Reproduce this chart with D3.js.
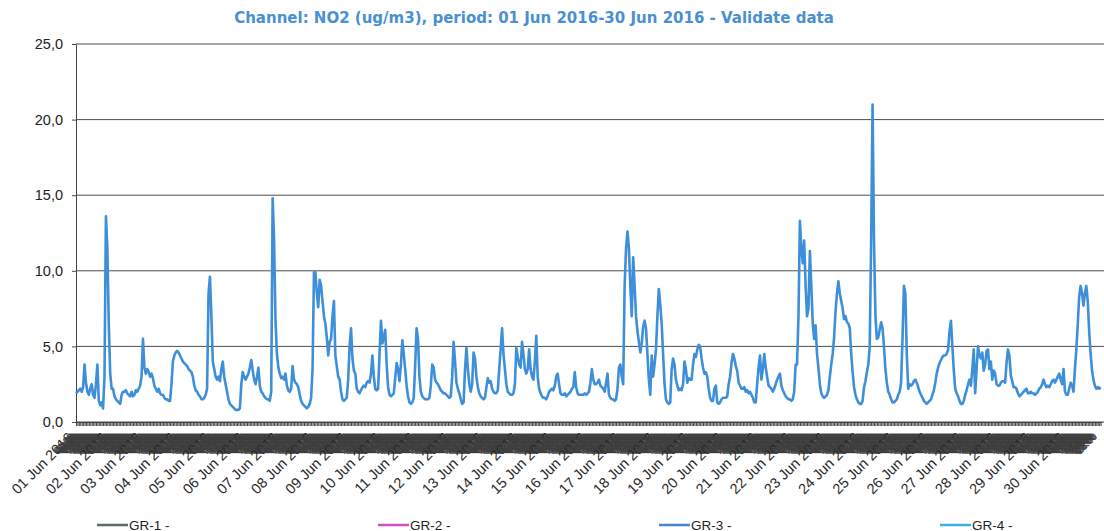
<!DOCTYPE html>
<html lang="en">
<head>
<meta charset="utf-8">
<title>NO2 - June 2016</title>
<style>
  body { margin: 0; background: #fff; }
  svg { display: block; }
  .title { font-family: "DejaVu Sans", Verdana, sans-serif; font-weight: bold; font-size: 15px; fill: #4a8fd2; }
  .grid line { stroke: #4d4d4d; stroke-width: 1px; }
  .y-axis text { font-family: "Liberation Sans", Arial, sans-serif; font-size: 14.5px; fill: #222; }
  .y-axis path, .y-axis line, .x-axis path, .x-axis line { stroke: #444; }
  .x-axis text { font-family: "Liberation Sans", Arial, sans-serif; fill: #333; }
  .legend text { font-family: "Liberation Sans", Arial, sans-serif; font-size: 13.5px; fill: #222; }
  .no2 { fill: none; stroke: #3d8fd9; stroke-width: 2.6px; stroke-linejoin: round; }
</style>
</head>
<body>
<div id="chart"></div>
<script src="https://cdn.jsdelivr.net/npm/d3@7"></script>
<script>
var width = 1104,
    height = 531;

var titleText = "Channel: NO2 (ug/m3), period: 01 Jun 2016-30 Jun 2016 - Validate data";

// hourly NO2 values, one row per day (01 Jun .. 30 Jun)
var no2 = [].concat(
  [1.9,2.0,2.1,2.2,2.0,2.3,3.8,2.6,2.0,1.8,2.2,2.5,1.8,1.6,2.5,3.8,1.4,1.1,1.3,0.9,3.0,13.6,11.5,6.5],
  [3.2,2.2,2.2,1.7,1.5,1.4,1.3,1.2,1.8,2.0,2.0,2.1,1.9,1.8,1.7,2.0,1.7,1.8,2.1,2.0,2.2,2.4,3.0,5.5],
  [3.6,3.2,3.5,3.3,3.0,3.2,2.9,2.4,2.2,2.0,2.2,1.9,1.8,1.8,1.6,1.5,1.5,1.4,1.4,2.5,4.0,4.4,4.6,4.7],
  [4.6,4.4,4.2,4.0,3.9,3.8,3.7,3.5,3.4,3.3,3.0,2.4,2.1,2.0,1.8,1.7,1.5,1.5,1.6,1.8,2.2,8.5,9.6,7.0],
  [4.0,3.5,3.0,2.8,3.0,2.7,3.5,4.0,3.0,2.5,2.0,1.5,1.2,1.1,1.0,0.9,0.8,0.8,0.8,0.9,2.5,3.3,3.0,2.8],
  [3.0,3.2,3.6,4.1,3.4,2.8,2.5,3.0,3.6,2.4,2.0,1.9,1.7,1.6,1.5,1.5,1.4,2.0,14.8,12.0,6.7,4.5,3.6,3.2],
  [2.9,3.0,2.8,3.2,2.4,2.1,2.0,2.2,3.7,2.8,2.6,2.5,2.3,1.8,1.4,1.2,1.1,1.0,0.9,1.0,1.2,1.6,3.5,9.9],
  [9.9,8.5,7.6,9.4,9.0,8.0,7.0,6.5,5.6,4.4,5.3,5.5,7.0,8.0,4.4,3.7,3.0,2.8,2.0,1.5,1.4,1.5,1.6,2.8],
  [5.0,6.2,4.2,3.4,3.2,2.2,2.0,1.9,2.1,2.3,2.4,2.3,2.6,2.7,2.6,3.2,4.4,3.0,2.2,2.1,2.2,4.5,6.7,5.2],
  [5.6,6.1,3.8,2.3,1.8,1.7,1.8,1.9,2.9,3.9,3.5,2.7,3.8,5.4,4.5,3.5,2.4,1.7,1.3,1.2,1.3,1.6,3.7,6.2],
  [5.5,3.0,2.0,1.7,1.6,1.5,1.5,1.5,1.6,2.4,3.8,3.6,2.8,2.6,2.5,2.3,2.1,2.0,1.9,1.9,1.8,1.7,1.6,1.7],
  [3.0,5.3,4.0,2.6,2.2,1.9,1.5,1.2,1.3,3.5,4.9,3.5,2.5,2.0,2.5,4.6,4.2,3.0,2.3,1.9,1.7,1.6,1.5,1.6],
  [2.3,2.9,2.6,2.7,2.2,2.0,1.9,1.9,2.1,3.5,4.8,6.2,4.5,3.5,2.5,2.0,1.9,1.8,1.8,1.9,2.5,4.9,4.3,3.8],
  [3.6,5.3,4.5,3.5,3.2,3.5,4.8,3.5,3.0,2.8,4.0,5.7,3.0,2.2,1.9,1.7,1.6,1.6,1.5,1.7,2.0,2.1,2.2,2.1],
  [2.4,3.0,3.2,2.5,1.9,1.8,1.8,1.9,1.7,1.8,1.9,2.0,2.2,2.3,3.3,2.3,1.9,1.8,1.8,1.8,1.8,1.9,1.8,1.9],
  [2.0,2.6,3.5,2.8,2.5,2.5,2.6,2.8,2.4,2.3,2.2,2.0,2.6,3.2,1.8,1.6,1.5,1.5,1.4,1.5,2.2,3.6,3.8,3.0],
  [2.5,9.0,11.5,12.6,11.5,9.0,7.0,10.9,9.0,7.0,6.0,5.3,4.6,5.2,6.3,6.7,6.2,4.5,2.8,1.8,4.4,3.0,3.8,4.8],
  [7.0,8.8,7.8,6.5,4.5,2.5,1.5,1.3,1.2,1.3,3.5,4.2,3.8,2.8,2.4,2.1,2.2,2.1,2.5,4.0,3.5,2.6,2.9,2.8],
  [2.8,3.8,4.5,4.3,4.8,5.1,5.0,4.2,3.6,3.2,3.3,3.0,2.2,1.6,1.4,1.4,2.2,2.4,1.3,1.2,1.3,1.5,1.6,1.6],
  [1.6,1.7,2.5,3.0,3.9,4.5,4.2,3.7,3.4,2.6,2.4,2.2,2.2,2.3,2.0,2.1,1.9,2.0,1.8,1.6,1.3,1.3,2.5,3.6],
  [4.4,2.8,3.5,4.5,3.6,3.0,2.4,2.3,2.2,2.0,2.2,2.5,2.8,3.0,3.2,2.4,2.1,1.9,1.7,1.6,1.5,1.5,1.4,1.5],
  [2.0,3.8,3.8,7.0,13.3,11.5,10.5,12.0,9.0,7.0,7.5,11.3,9.0,6.5,5.5,6.4,4.5,3.6,2.5,1.9,1.7,1.6,1.7,1.8],
  [2.1,3.0,3.8,4.5,5.6,7.3,8.5,9.3,8.5,8.0,7.5,6.8,7.0,6.6,6.5,6.2,4.5,3.3,2.3,1.8,1.5,1.3,1.2,1.2],
  [1.4,2.3,2.7,3.3,3.8,5.0,12.0,21.0,12.0,7.0,5.5,5.6,6.1,6.6,6.2,5.0,3.5,2.6,2.0,1.8,1.5,1.3,1.3,1.4],
  [1.5,1.8,2.0,2.6,5.5,9.0,8.5,4.5,2.2,2.5,2.4,2.5,2.7,2.8,2.6,2.3,2.0,1.8,1.6,1.4,1.3,1.2,1.3,1.4],
  [1.5,1.8,2.1,2.6,3.2,3.6,3.9,4.1,4.3,4.4,4.4,4.5,4.8,6.0,6.7,5.0,3.4,2.2,1.9,1.7,1.4,1.2,1.2,1.4],
  [1.8,2.1,2.5,2.8,2.4,3.5,4.8,1.9,3.5,5.0,4.4,4.2,4.6,3.4,3.8,4.7,4.8,3.5,4.0,2.8,3.4,3.2,2.5,2.4],
  [2.4,2.6,2.7,2.7,2.6,3.9,4.8,4.4,3.1,2.7,2.3,2.3,2.2,1.9,1.7,1.8,1.9,2.0,2.1,2.2,1.9,1.9,2.0,1.9],
  [1.9,1.8,1.9,2.0,2.2,2.3,2.5,2.8,2.5,2.3,2.4,2.3,2.5,2.7,2.8,2.6,2.8,3.0,3.2,2.8,2.5,3.5,2.0,1.8],
  [1.8,2.2,2.6,2.4,2.0,3.5,4.8,6.5,8.3,9.0,8.5,7.7,8.5,9.0,8.0,6.0,4.5,3.4,2.8,2.4,2.2,2.3,2.2,2.3]
);

var yTicks = [0, 5, 10, 15, 20, 25];
var legendNames = ["GR-1 -", "GR-2 -", "GR-3 -", "GR-4 -"];
var legendColors = ["#566e62", "#d24fc2", "#4a86c8", "#3eaee2"];

var start = new Date(2016, 5, 1),
    end = new Date(2016, 6, 1);
var hours = d3.timeHour.range(start, end);

var svg = d3.select("#chart")
    .append("svg")
    .attr("width", width)
    .attr("height", height);

svg.append("rect").attr("width", width).attr("height", height).attr("fill", "#fff");

var x = d3.scaleTime()
    .domain([start, end])
    .range([76, 1102]);

var y = d3.scaleLinear()
    .domain([0, 25])
    .range([422, 44]);

// title
svg.append("text")
    .attr("class", "title")
    .attr("x", 534)
    .attr("y", 23)
    .attr("text-anchor", "middle")
    .text(titleText);

// horizontal gridlines
svg.append("g")
    .attr("class", "grid")
  .selectAll("line")
    .data(yTicks)
  .enter().append("line")
    .attr("x1", x.range()[0])
    .attr("x2", width)
    .attr("y1", function(d) { return y(d); })
    .attr("y2", function(d) { return y(d); });

// y axis
var yFmt = d3.format(".1f");
svg.append("g")
    .attr("class", "y-axis")
    .attr("transform", "translate(" + x.range()[0] + ",0)")
    .call(d3.axisLeft(y)
      .tickValues(yTicks)
      .tickSize(4)
      .tickSizeOuter(0)
      .tickPadding(9)
      .tickFormat(function(d) { return yFmt(d).replace(".", ","); }));

// x axis: one tick per hour, day labels at midnight
var dayFmt = d3.timeFormat("%d %b %Y"),
    hourFmt = d3.timeFormat("%H:%M");

var xAxisG = svg.append("g")
    .attr("class", "x-axis")
    .attr("transform", "translate(0," + y(0) + ")")
    .call(d3.axisBottom(x)
      .tickValues(hours)
      .tickSize(4)
      .tickSizeOuter(0)
      .tickFormat(function(d) { return d.getHours() === 0 ? dayFmt(d) : hourFmt(d); }));

xAxisG.select(".domain").attr("stroke", "#444");

xAxisG.selectAll("text")
    .attr("x", 0)
    .attr("y", 0)
    .attr("dy", "0.35em")
    .attr("text-anchor", "end")
    .attr("transform", "translate(-6,13) rotate(-45)")
    .style("font-size", function(d) { return d.getHours() === 0 ? "14.5px" : "9.5px"; })
    .style("fill", function(d) { return d.getHours() === 0 ? "#2a2a2a" : "#333"; })
    .style("stroke", function(d) { return d.getHours() === 0 ? "none" : "#444"; })
    .style("stroke-width", "0.4px");

// the NO2 series
var line = d3.line()
    .x(function(d, i) { return x(hours[i]); })
    .y(function(d) { return y(d); });

svg.append("path")
    .datum(no2)
    .attr("class", "no2")
    .attr("d", line);

// legend
var legendX = d3.scaleLinear().domain([0, legendNames.length - 1]).range([97, 940]);

var legend = svg.append("g")
    .attr("class", "legend")
  .selectAll("g")
    .data(legendNames)
  .enter().append("g")
    .attr("transform", function(d, i) { return "translate(" + legendX(i) + ",525)"; });

legend.append("line")
    .attr("x1", 0)
    .attr("x2", 31)
    .attr("stroke", function(d, i) { return legendColors[i]; })
    .attr("stroke-width", 2.5);

legend.append("text")
    .attr("x", 32)
    .attr("dy", "0.36em")
    .text(function(d) { return d; });
</script>
</body>
</html>
